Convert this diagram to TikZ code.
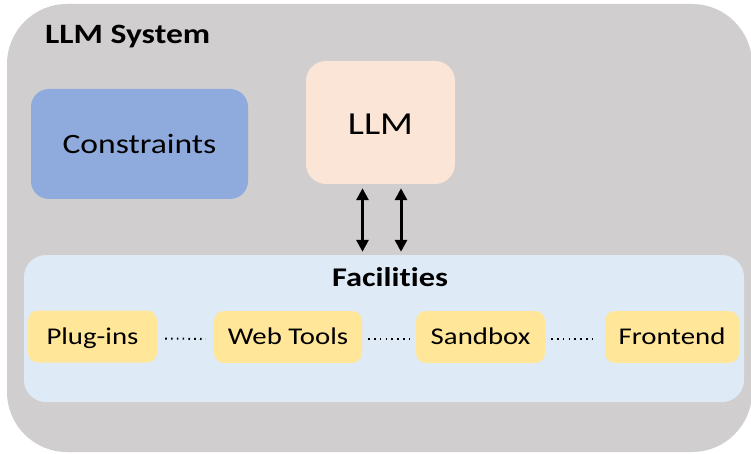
\documentclass[tikz,border=0pt]{standalone}
\usepackage{fontspec}
\setmainfont{Carlito}[Ligatures=NoCommon, FakeStretch=1.2]
\usetikzlibrary{arrows.meta}
\definecolor{sysgray}{HTML}{D0CECE}
\definecolor{consblue}{HTML}{8FAADC}
\definecolor{llmpeach}{HTML}{FBE5D6}
\definecolor{facblue}{HTML}{DEEBF7}
\definecolor{toolyellow}{HTML}{FFE699}
\tikzset{
  panel/.style={draw=none, rounded corners=#1, inner sep=0pt},
  tool/.style={panel=10pt, fill=toolyellow, minimum height=52pt,
    text height=20pt, text depth=4.5pt, font=\fontsize{24}{28}\selectfont},
  link/.style={line width=2pt, dash pattern=on 1.6pt off 4.2pt},
  dualarrow/.style={line width=3pt, {Triangle[length=12pt,width=12pt]}-{Triangle[length=12pt,width=12pt]}},
}
\begin{document}
\begin{tikzpicture}[x=1pt,y=-1pt]
\useasboundingbox (0,0) rectangle (751,454);
\fill[white] (0,0) rectangle (751,454);
% enclosing system panel
\node[panel=60pt, fill=sysgray, minimum width=745pt, minimum height=448pt] (sys) at (379.5,228) {};
\node[anchor=west, inner sep=0pt, font=\fontsize{28}{32}\selectfont\bfseries] (systitle) at (45,37) {LLM System};
% constraints and model
\node[panel=18pt, fill=consblue, minimum width=217pt, minimum height=110pt, font=\fontsize{28}{32}\selectfont] (cons) at (139.5,144) {Constraints};
\node[panel=20pt, fill=llmpeach, minimum width=149pt, minimum height=123pt] (llm) at (380.5,122.5) {};
\node[font=\fontsize{32}{36}\selectfont] (llmtext) at (380.5,124) {LLM};
% facilities panel
\node[panel=22pt, fill=facblue, minimum width=720pt, minimum height=147pt] (fac) at (384,328.5) {};
\node[font=\fontsize{27}{30}\selectfont\bfseries] (factitle) at (390,277) {Facilities};
% tools
\node[tool, minimum width=129pt] (plug) at (92.5,336.5) {Plug-ins};
\node[tool, minimum width=148pt] (web) at (288,337) {Web Tools};
\node[tool, minimum width=129pt] (sand) at (480.5,337) {Sandbox};
\node[tool, minimum width=134pt] (front) at (672,337) {Frontend};
\draw[link] ([xshift=8pt,yshift=-2pt]plug.east) -- ([xshift=-8pt,yshift=-2pt]web.west);
\draw[link] ([xshift=6pt,yshift=-2pt]web.east) -- ([xshift=-6pt,yshift=-2pt]sand.west);
\draw[link] ([xshift=6pt,yshift=-2pt]sand.east) -- ([xshift=-11pt,yshift=-2pt]front.west);
% model <-> facilities
\coordinate (a1) at ([xshift=-18pt,yshift=-4pt]llm.south);
\coordinate (a2) at ([xshift=20.5pt,yshift=-4pt]llm.south);
\draw[dualarrow] (a1) -- ([yshift=3pt]a1 |- fac.north);
\draw[dualarrow] (a2) -- ([yshift=3pt]a2 |- fac.north);
\end{tikzpicture}
\end{document}
